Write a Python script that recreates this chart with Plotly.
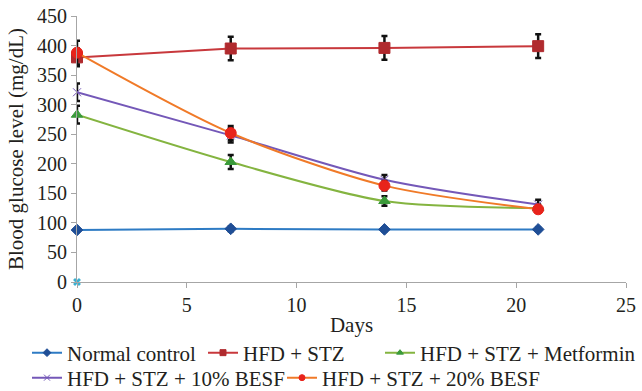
import plotly.graph_objects as go

days = [0, 7, 14, 21]
normal = [88, 90, 89, 89]
normal_err = [3, 4, 3, 3]
hfd_stz = [380, 395, 396, 399]
hfd_stz_err = [15, 20, 20, 20]
metformin = [283, 203, 137, 125]
metformin_err = [15, 12, 8, 6]
besf10 = [321, 248, 173, 131]
besf10_err = [15, 12, 8, 8]
besf20 = [388, 252, 163, 123]
besf20_err = [20, 12, 8, 6]
names = ["Normal control", "HFD + STZ", "HFD + STZ + Metformin",
         "HFD + STZ + 10% BESF", "HFD + STZ + 20% BESF"]

serif = "Liberation Serif, Times New Roman, serif"
TXT = "#231F20"

# plot area in pixels (for placing legend entries)
L, R, T, B = 77, 16, 16, 109
W, H = 642, 391
pw, ph = W - L - R, H - T - B

def px_x(p):
    return (p - L) / pw

def px_y(p):
    return (H - B - p) / ph

fig = go.Figure()

def add(name, y, err, line_color, marker_color, symbol, shape, size, legend):
    fig.add_trace(go.Scatter(
        x=days, y=y, name=name, mode="lines+markers", showlegend=False,
        line=dict(color=line_color, width=2, shape=shape, smoothing=0.8),
        marker=dict(color=marker_color, symbol=symbol, size=size,
                    line=dict(color=marker_color, width=1)),
        error_y=dict(type="data", array=err, visible=True, color="#111111",
                     thickness=2.5, width=3),
        cliponaxis=False,
    ))
    # small legend-only entry
    fig.add_trace(go.Scatter(
        x=[None], y=[None], name=name, mode="lines+markers", legend=legend,
        line=dict(color=line_color, width=2),
        marker=dict(color=marker_color, symbol=symbol, size=6,
                    line=dict(color=marker_color, width=1)),
    ))

add(names[0], normal, normal_err, "#2E7BC4", "#1F4E96", "diamond", "linear", 9, "legend")
add(names[1], hfd_stz, hfd_stz_err, "#C8383C", "#B02A2E", "square", "linear", 11, "legend2")
add(names[2], metformin, metformin_err, "#84B440", "#3A9A3A", "triangle-up", "spline", 10, "legend3")
add(names[3], besf10, besf10_err, "#7458B8", "#7458B8", "x-thin", "spline", 8, "legend4")
add(names[4], besf20, besf20_err, "#F07A28", "#E8231B", "circle", "spline", 11, "legend5")

# stray marker at origin
fig.add_trace(go.Scatter(x=[0], y=[0], mode="markers", showlegend=False, cliponaxis=False,
                         marker=dict(symbol="x", size=7, color="#3BB0D0")))

axis_common = dict(showline=True, linecolor="#A6A6A6", linewidth=1,
                   ticks="outside", tickcolor="#A6A6A6", ticklen=5,
                   showgrid=False, zeroline=False,
                   tickfont=dict(family=serif, size=20, color=TXT))

def leg(xpx, ypx):
    return dict(orientation="h", x=px_x(xpx), xanchor="left", y=px_y(ypx), yanchor="middle",
                font=dict(family=serif, size=21, color=TXT), itemwidth=30,
                bgcolor="rgba(0,0,0,0)", borderwidth=0)

fig.update_layout(
    width=W, height=H,
    margin=dict(l=L, r=R, t=T, b=B, autoexpand=False),
    paper_bgcolor="white", plot_bgcolor="white",
    xaxis=dict(range=[0, 25], dtick=5,
               title=dict(text="Days", font=dict(family=serif, size=21, color=TXT), standoff=2),
               **axis_common),
    yaxis=dict(range=[0, 450], dtick=50,
               title=dict(text="Blood glucose level (mg/dL)", font=dict(family=serif, size=21, color=TXT), standoff=7),
               **axis_common),
    legend=leg(27, 353),
    legend2=leg(203, 353),
    legend3=leg(380, 353),
    legend4=leg(27, 378),
    legend5=leg(282, 378),
    showlegend=True,
)

fig.write_html("out.html", config={"displayModeBar": False},
               post_script="document.body.style.margin='0';document.body.style.overflow='hidden';")
